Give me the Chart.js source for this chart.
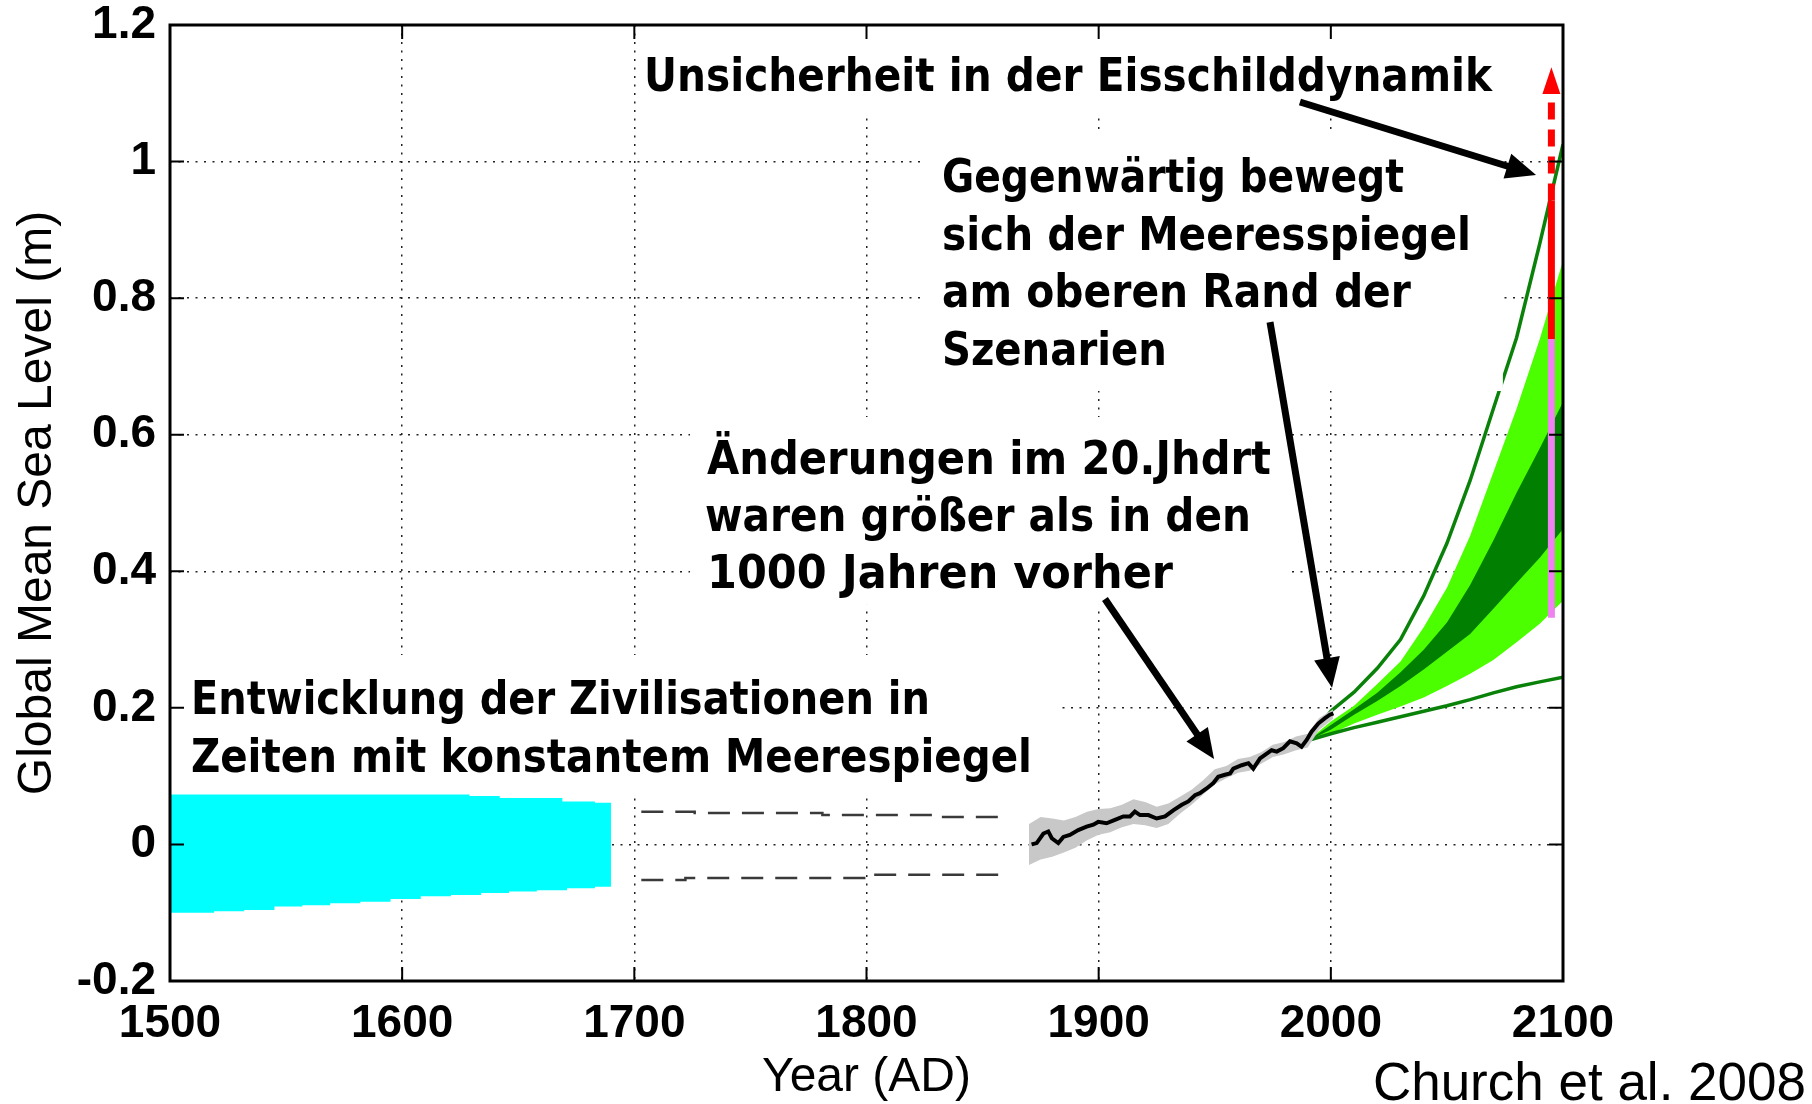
<!DOCTYPE html>
<html><head><meta charset="utf-8">
<script src="https://cdn.jsdelivr.net/npm/chart.js@4/dist/chart.umd.min.js"></script>
<style>html,body{margin:0;padding:0;background:#fff;overflow:hidden}canvas{display:block}</style>
</head><body>
<canvas id="c" width="1812" height="1104"></canvas>
<script>
// ---------- data ----------
const xTicks = [1500, 1600, 1700, 1800, 1900, 2000, 2100];
const yTicks = [-0.2, 0, 0.2, 0.4, 0.6, 0.8, 1, 1.2];
const yTickLabels = ['-0.2', '0', '0.2', '0.4', '0.6', '0.8', '1', '1.2'];

// civilisation band (cyan)
const civYears = [1500, 1519, 1532, 1545, 1557, 1569, 1582, 1595, 1608, 1621, 1629, 1634, 1642, 1646, 1658, 1669, 1671, 1683, 1690];
const civUpper = [0.073, 0.073, 0.073, 0.073, 0.073, 0.073, 0.073, 0.073, 0.073, 0.073, 0.071, 0.071, 0.068, 0.068, 0.068, 0.063, 0.063, 0.061, 0.061];
const civLower = [-0.100, -0.098, -0.096, -0.091, -0.089, -0.086, -0.084, -0.080, -0.076, -0.074, -0.074, -0.071, -0.071, -0.069, -0.067, -0.067, -0.064, -0.062, -0.062];

// dashed bounds 1700-1860
const dashUpYears = [1703, 1726, 1781, 1833, 1860];
const dashUpVals = [0.048, 0.046, 0.043, 0.040, 0.040];
const dashLoYears = [1703, 1722, 1799, 1860];
const dashLoVals = [-0.052, -0.049, -0.0445, -0.0445];

// observed sea level
const obsYears = [1871.1, 1873.3, 1876.2, 1878.3, 1879.8, 1882.6, 1884.8, 1887.6, 1891.2, 1894.8, 1897.7, 1899.8, 1903.4, 1907.0, 1910.6, 1913.5, 1915.6, 1917.8, 1921.4, 1925.0, 1928.6, 1932.1, 1935.8, 1938.6, 1941.5, 1943.6, 1946.5, 1949.4, 1951.5, 1954.4, 1956.6, 1958.0, 1961.6, 1964.5, 1966.6, 1969.5, 1972.4, 1974.5, 1976.7, 1979.5, 1982.4, 1985.3, 1987.4, 1989.6, 1991.7, 1994.6, 1997.5, 1999.6, 2001.1];
const obsVals = [0.000, 0.002, 0.016, 0.019, 0.009, 0.002, 0.011, 0.014, 0.021, 0.026, 0.029, 0.033, 0.031, 0.036, 0.041, 0.041, 0.048, 0.043, 0.043, 0.038, 0.041, 0.050, 0.058, 0.063, 0.072, 0.075, 0.082, 0.090, 0.099, 0.102, 0.104, 0.111, 0.116, 0.119, 0.111, 0.126, 0.133, 0.138, 0.136, 0.141, 0.151, 0.148, 0.143, 0.153, 0.165, 0.177, 0.185, 0.190, 0.192];

// observation uncertainty (grey)
const errYears = [1870, 1875, 1880, 1885, 1890, 1895, 1900, 1905, 1910, 1915, 1920, 1925, 1930, 1935, 1940, 1945, 1950, 1955, 1960, 1965, 1970, 1975, 1980, 1985, 1990, 1995, 2001];
const errUpper = [0.030, 0.040, 0.038, 0.035, 0.040, 0.048, 0.052, 0.053, 0.058, 0.066, 0.062, 0.055, 0.060, 0.070, 0.080, 0.094, 0.110, 0.115, 0.125, 0.128, 0.135, 0.146, 0.150, 0.158, 0.162, 0.185, 0.198];
const errLower = [-0.030, -0.022, -0.018, -0.012, -0.005, 0.006, 0.014, 0.018, 0.025, 0.030, 0.028, 0.024, 0.030, 0.045, 0.058, 0.073, 0.088, 0.097, 0.105, 0.108, 0.118, 0.128, 0.132, 0.138, 0.142, 0.168, 0.184];

// projections
const projYears = [1990, 2000, 2010, 2020, 2030, 2040, 2050, 2060, 2070, 2080, 2090, 2100];
const outerUpper = [0.152, 0.195, 0.223, 0.258, 0.300, 0.364, 0.441, 0.533, 0.638, 0.742, 0.880, 1.025];
const outerLower = [0.152, 0.162, 0.171, 0.179, 0.187, 0.195, 0.203, 0.212, 0.222, 0.231, 0.238, 0.245];
const lightUpper = [0.152, 0.180, 0.203, 0.235, 0.268, 0.318, 0.376, 0.452, 0.545, 0.638, 0.740, 0.855];
const lightLower = [0.152, 0.162, 0.177, 0.190, 0.202, 0.215, 0.232, 0.250, 0.270, 0.296, 0.323, 0.357];
const darkUpper = [0.152, 0.175, 0.198, 0.222, 0.252, 0.285, 0.325, 0.380, 0.445, 0.515, 0.580, 0.648];
const darkLower = [0.152, 0.168, 0.190, 0.210, 0.232, 0.256, 0.282, 0.308, 0.345, 0.383, 0.420, 0.462];

// ice-sheet uncertainty bar at 2095
const barYear = 2095;
const pinkRange = [0.332, 0.740];
const redSolidRange = [0.740, 0.943];
const redDashRange = [0.943, 1.100];
const redHeadRange = [1.099, 1.138];

// ---------- annotations (data units) ----------
const noteLines = [
  ['Unsicherheit in der Eisschilddynamik', 1704.2, 1.1034, 848],
  ['Gegenwärtig bewegt', 1832.5, 0.9554, 462],
  ['sich der Meeresspiegel', 1832.5, 0.8705, 529],
  ['am oberen Rand der', 1832.5, 0.7863, 469],
  ['Szenarien', 1832.5, 0.7021, 225],
  ['Änderungen im 20.Jhdrt', 1731.3, 0.5425, 564],
  ['waren größer als in den', 1730.4, 0.4590, 546],
  ['1000 Jahren vorher', 1731.3, 0.3755, 466],
  ['Entwicklung der Zivilisationen in', 1509.0, 0.1910, 739],
  ['Zeiten mit konstantem Meerespiegel', 1509.0, 0.1061, 841]
];
const noteBoxes = [
  [1701.6, 2075.0, 1.1927, 1.0711],
  [1825.2, 2074.1, 1.0433, 0.6640],
  [1724.0, 1982.4, 0.6259, 0.3507],
  [1500.9, 1884.2, 0.2774, 0.0753]
];
const noteArrows = [
  [1986.7, 1.0872, 2088.4, 0.9803],
  [1973.8, 0.7650, 2000.5, 0.2294],
  [1902.7, 0.3594, 1949.7, 0.1251]
];

// ---------- build ----------
const pts = (xs, ys) => xs.map((x, i) => ({x: x, y: ys[i]}));
const NONE = 'rgba(0,0,0,0)';
const band = (xs, ys, color, fill, stepped) => ({data: pts(xs, ys), borderWidth: 0, borderColor: NONE, backgroundColor: color, fill: fill, pointRadius: 0, stepped: !!stepped});
const line = (xs, ys, color, w, dash, stepped) => ({data: pts(xs, ys), borderWidth: w, borderColor: color, borderDash: dash || [], fill: false, pointRadius: 0, stepped: !!stepped, borderCapStyle: 'butt'});

const datasets = [
  line([barYear, barYear], redDashRange, '#ff0000', 7, [17, 10]),
  line([barYear, barYear], redSolidRange, '#ff0000', 7),
  line([barYear, barYear], pinkRange, '#ee82ee', 7),
  line(obsYears, obsVals, '#000000', 4),
  band(errYears, errUpper, '#c8c8c8', '+1'),
  band(errYears, errLower, NONE, false),
  line(projYears, outerUpper, '#0a820a', 3.5),
  line(projYears, outerLower, '#0a820a', 3.5),
  band(projYears, darkUpper, '#007f00', '+1'),
  band(projYears, darkLower, NONE, false),
  band(projYears, lightUpper, '#4cff00', '+1'),
  band(projYears, lightLower, NONE, false),
  band(civYears, civUpper, '#00ffff', '+1', true),
  band(civYears, civLower, NONE, false, true),
  line(dashUpYears, dashUpVals, '#3a3a3a', 2.5, [22, 12], true),
  line(dashLoYears, dashLoVals, '#3a3a3a', 2.5, [22, 12], true)
];

const overlay = {
  id: 'overlay',
  afterDatasetsDraw(chart) {
    const ctx = chart.ctx, xs = chart.scales.x, ys = chart.scales.y, a = chart.chartArea;
    const px = v => xs.getPixelForValue(v), py = v => ys.getPixelForValue(v);
    ctx.save();
    // red arrow head
    const hx = px(barYear), ht = py(redHeadRange[1]), hb = py(redHeadRange[0]);
    ctx.fillStyle = '#ff0000';
    ctx.beginPath(); ctx.moveTo(hx, ht); ctx.lineTo(hx + 9, hb); ctx.lineTo(hx - 9, hb); ctx.closePath(); ctx.fill();
    // white text backgrounds
    ctx.fillStyle = '#ffffff';
    noteBoxes.forEach(b => {
      const x1 = px(b[0]), x2 = px(b[1]), y1 = py(b[2]), y2 = py(b[3]);
      ctx.fillRect(x1, y1, x2 - x1, y2 - y1);
    });
    // texts
    ctx.fillStyle = '#000';
    ctx.font = 'bold 47px "DejaVu Sans"';
    ctx.textAlign = 'left'; ctx.textBaseline = 'alphabetic';
    noteLines.forEach(n => ctx.fillText(n[0], px(n[1]), py(n[2]), n[3]));
    // arrows
    ctx.strokeStyle = '#000'; ctx.lineWidth = 7; ctx.lineCap = 'butt';
    noteArrows.forEach(r => {
      const x1 = px(r[0]), y1 = py(r[1]), x2 = px(r[2]), y2 = py(r[3]);
      const ang = Math.atan2(y2 - y1, x2 - x1), c = Math.cos(ang), s = Math.sin(ang);
      const L = 30, H = 13, bx = x2 - L * c, by = y2 - L * s;
      ctx.beginPath(); ctx.moveTo(x1, y1); ctx.lineTo(bx + c * 2, by + s * 2); ctx.stroke();
      ctx.beginPath(); ctx.moveTo(x2, y2); ctx.lineTo(bx + H * s, by - H * c); ctx.lineTo(bx - H * s, by + H * c); ctx.closePath(); ctx.fill();
    });
    // axes box and inward ticks
    ctx.lineWidth = 3; ctx.strokeStyle = '#000';
    ctx.strokeRect(a.left, a.top, a.right - a.left, a.bottom - a.top);
    ctx.lineWidth = 2;
    ctx.beginPath();
    xTicks.forEach(t => { const x = px(t); ctx.moveTo(x, a.bottom); ctx.lineTo(x, a.bottom - 14); ctx.moveTo(x, a.top); ctx.lineTo(x, a.top + 14); });
    yTicks.forEach(t => { const y = py(t); ctx.moveTo(a.left, y); ctx.lineTo(a.left + 14, y); ctx.moveTo(a.right, y); ctx.lineTo(a.right - 14, y); });
    ctx.stroke();
    // source
    ctx.font = '53px "Liberation Sans"';
    ctx.textAlign = 'right';
    ctx.fillText('Church et al. 2008', 1806, 1100);
    ctx.restore();
  }
};

const tickFont = {family: '"Liberation Sans", Arial, sans-serif', size: 46, weight: 'bold'};
const titleFont = {family: '"Liberation Sans", Arial, sans-serif', size: 48, weight: 'normal'};

new Chart(document.getElementById('c'), {
  type: 'line',
  data: {datasets: datasets},
  plugins: [overlay],
  options: {
    responsive: false, animation: false, devicePixelRatio: 1,
    layout: {padding: {left: 0, right: 249, top: 25, bottom: 0}},
    plugins: {legend: {display: false}, tooltip: {enabled: false}},
    elements: {line: {tension: 0}, point: {radius: 0}},
    scales: {
      x: {
        type: 'linear', min: 1500, max: 2100,
        afterBuildTicks: s => { s.ticks = xTicks.map(v => ({value: v})); },
        afterFit: s => { s.height = 123; s.paddingLeft = 0; s.paddingRight = 0; },
        ticks: {font: tickFont, color: '#000', padding: 16, maxRotation: 0, autoSkip: false, callback: v => String(v)},
        grid: {color: '#222', lineWidth: 1.5, drawTicks: false},
        border: {display: false, dash: [2, 6.5]},
        title: {display: true, text: 'Year (AD)', font: titleFont, color: '#000', padding: {top: 0, bottom: -3}}
      },
      y: {
        type: 'linear', min: -0.2, max: 1.2,
        afterBuildTicks: s => { s.ticks = yTicks.map(v => ({value: v})); },
        afterFit: s => { s.width = 170; s.paddingTop = 0; s.paddingBottom = 0; },
        ticks: {font: tickFont, color: '#000', padding: 14, autoSkip: false,
          callback: v => { const i = yTicks.findIndex(t => Math.abs(t - v) < 1e-9); return i >= 0 ? yTickLabels[i] : ''; }},
        grid: {color: '#222', lineWidth: 1.5, drawTicks: false},
        border: {display: false, dash: [2, 6.5]},
        title: {display: true, text: 'Global Mean Sea Level (m)', font: titleFont, color: '#000', padding: {top: 9, bottom: 0}}
      }
    }
  }
});
</script>
</body></html>
